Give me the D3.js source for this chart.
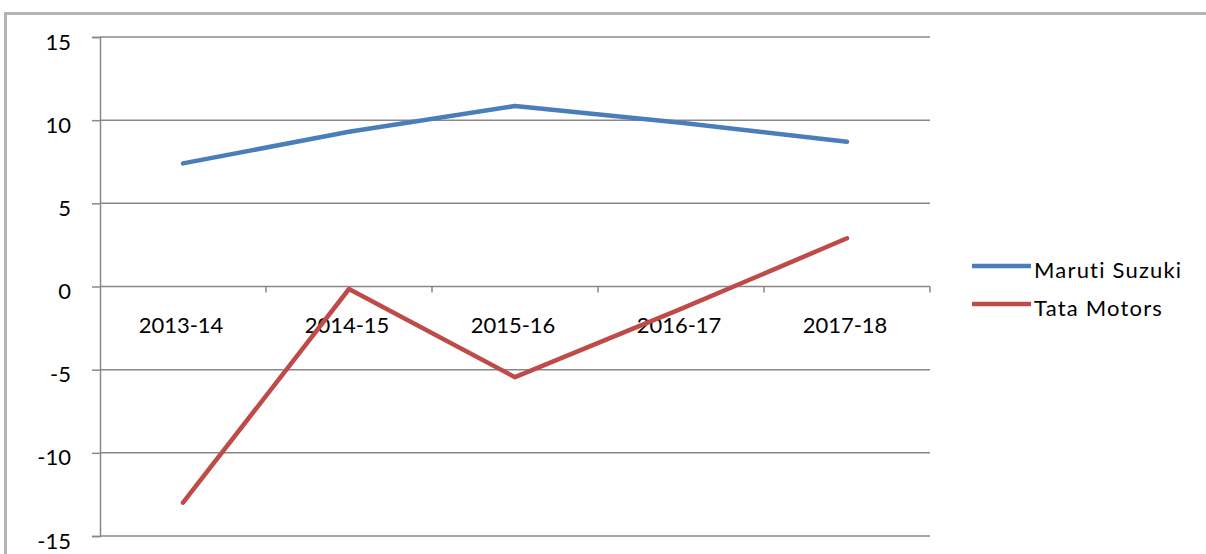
<!DOCTYPE html>
<html><head><meta charset="utf-8">
<script src="https://cdn.jsdelivr.net/npm/d3@7"></script>
<style>body{margin:0;background:#fff}svg{display:block}</style>
</head><body>
<svg id="c" width="1206" height="554"></svg>
<script>
const categories = ["2013-14","2014-15","2015-16","2016-17","2017-18"];
const maruti = [7.4, 9.3, 10.85, 9.85, 8.7];
const tata = [-13.0, -0.15, -5.45, -1.35, 2.9];
const seriesNames = ["Maruti Suzuki","Tata Motors"];
const yTicks = [-15,-10,-5,0,5,10,15];

const svg = d3.select("#c");
const font = "Lato, 'Open Sans', sans-serif";
// frame
svg.append("path").attr("d","M5.5,554 L5.5,13.5 L1206,13.5").attr("fill","none").attr("stroke","#b4b4b4").attr("stroke-width",3);

const x = d3.scaleBand().domain(categories).range([100,930]);
const y = d3.scaleLinear().domain([-15,15]).range([536,37]);

// gridlines + y axis
const yAxis = d3.axisLeft(y).tickValues(yTicks).tickSize(8).tickFormat(d => String(d));
const gy = svg.append("g").attr("transform","translate(100,0)").call(yAxis);
gy.select(".domain").attr("stroke","#888").attr("stroke-width",1.5);
gy.selectAll(".tick line").attr("stroke","#888").attr("stroke-width",1.5);
gy.selectAll(".tick text").attr("font-family",font).attr("font-size",22).attr("fill","#000")
  .attr("x",-29).attr("y",12).attr("dy",null);
svg.append("g").selectAll("line").data(yTicks).join("line")
  .attr("x1",100).attr("x2",930).attr("y1",d=>y(d)).attr("y2",d=>y(d))
  .attr("stroke","#888").attr("stroke-width",1.5);

// x axis at zero
const bounds = categories.map(c=>x(c)).concat([930]);
svg.append("g").selectAll("line").data(bounds.slice(1)).join("line")
  .attr("x1",d=>d).attr("x2",d=>d).attr("y1",y(0)).attr("y2",y(0)+6)
  .attr("stroke","#888").attr("stroke-width",1.5);
svg.append("g").selectAll("text").data(categories).join("text")
  .attr("x",d=>x(d)+x.bandwidth()/2-2).attr("y",y(0)+46)
  .attr("text-anchor","middle").attr("font-family",font).attr("font-size",22).attr("fill","#000")
  .text(d=>d);

const line = d3.line().x((d,i)=>x(categories[i])+x.bandwidth()/2).y(d=>y(d));
const colors = ["#4a7ebb","#be4b48"];
[maruti,tata].forEach((s,k)=>{
  svg.append("path").datum(s).attr("d",line).attr("fill","none")
    .attr("stroke",colors[k]).attr("stroke-width",4.5).attr("stroke-linecap","round").attr("stroke-linejoin","round");
});

// legend
const lg = svg.append("g");
seriesNames.forEach((n,k)=>{
  const yy = 266 + k*38;
  lg.append("line").attr("x1",972).attr("x2",1031).attr("y1",yy).attr("y2",yy).attr("stroke",colors[k]).attr("stroke-width",4.5);
  lg.append("text").attr("x",1034).attr("y",yy+12).attr("font-family",font).attr("font-size",22)
    .attr("letter-spacing",1.2).attr("fill","#000").text(n);
});
</script>
</body></html>
